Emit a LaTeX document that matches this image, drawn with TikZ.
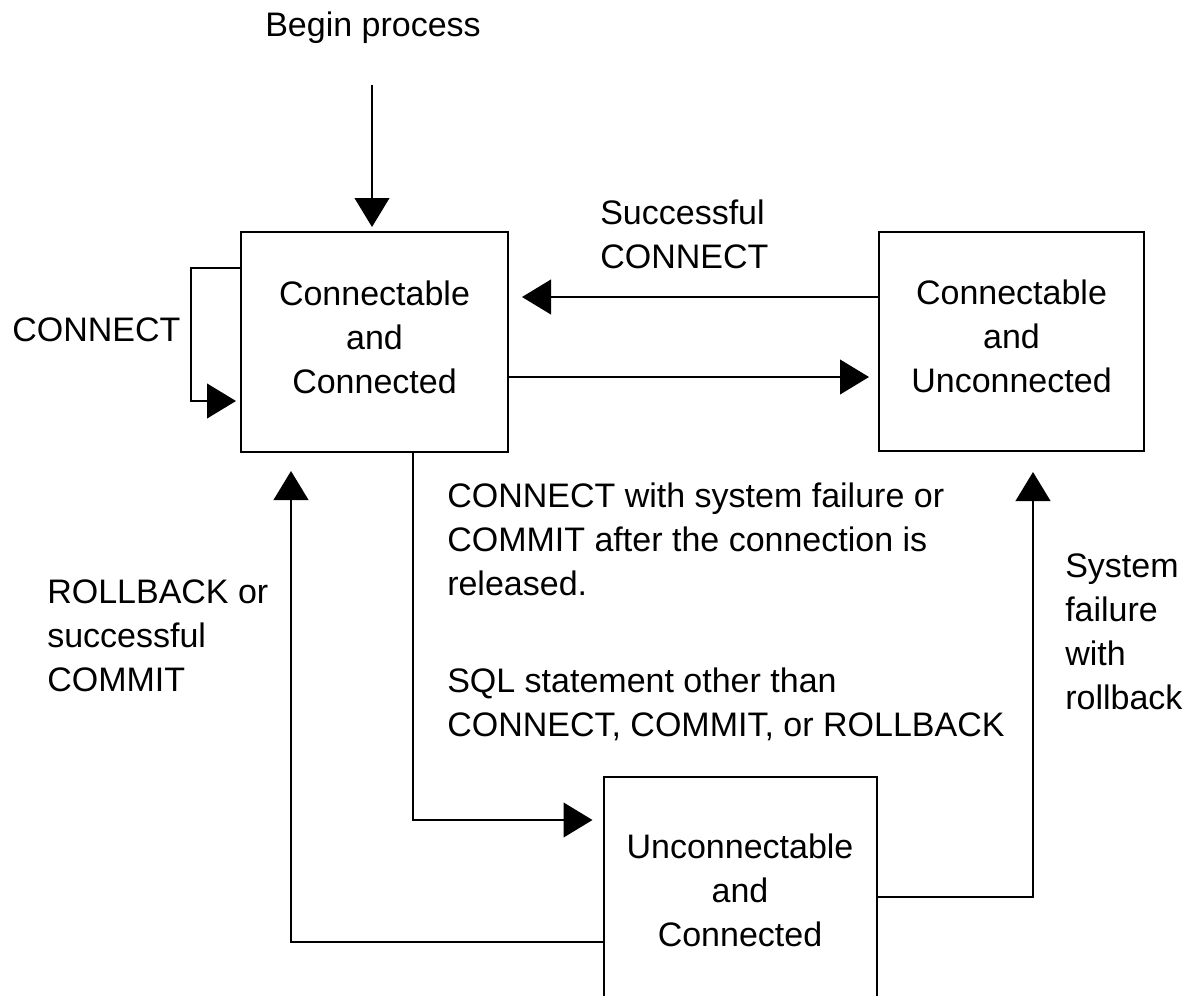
\documentclass[tikz,border=0pt]{standalone}
\usepackage{fontspec}
\setmainfont{Liberation Sans}
\usetikzlibrary{arrows.meta}
\begin{document}
\begin{tikzpicture}[x=0.75pt,y=-0.75pt,
  every node/.style={font=\fontsize{25.5}{33}\selectfont},
  stbox/.style={draw, line width=1.5pt, align=center, inner sep=0pt, text depth=7.5pt},
  lbl/.style={anchor=north west, inner sep=0pt, align=left},
  conn/.style={line width=1.5pt, -{Triangle[length=21.75pt,width=26pt]}}]
\useasboundingbox (0,0) rectangle (1191,995);
\fill[white] (0,0) rectangle (1191,995);
% states
\node[stbox, minimum width=200.25pt, minimum height=165pt] (CC) at (374.5,342) {Connectable\\and\\Connected};
\node[stbox, minimum width=198.75pt, minimum height=164.25pt] (CU) at (1011.5,341.5) {Connectable\\and\\Unconnected};
\node[stbox, minimum width=204.75pt, minimum height=177pt] (UC) at (740,895) {Unconnectable\\and\\Connected};
% labels
\node[anchor=north, inner sep=0pt] (tbegin) at (373,12) {Begin process};
\node[lbl] (tconn) at (12,317) {CONNECT};
\node[lbl] (tsucc) at (600,200) {Successful\\CONNECT};
\node[lbl] (tfail) at (447,483) {CONNECT with system failure or\\COMMIT after the connection is\\released.};
\node[lbl] (tsql) at (447,668) {SQL statement other than\\CONNECT, COMMIT, or ROLLBACK};
\node[lbl] (troll) at (47,579) {ROLLBACK or\\successful\\COMMIT};
\node[lbl] (tsys) at (1065,553) {System\\failure\\with\\rollback};
% helper coordinates
\coordinate (bp) at (372,85);
\coordinate (y268) at (0,268);
\coordinate (y401) at (0,401);
\coordinate (x191) at (191,0);
\coordinate (y297) at (0,297);
\coordinate (y377) at (0,377);
\coordinate (x413) at (413,0);
\coordinate (y820) at (0,820);
\coordinate (x291) at (291,0);
\coordinate (y942) at (0,942);
\coordinate (x1033) at (1033,0);
\coordinate (y897) at (0,897);
% connectors
\draw[conn, shorten >=3pt] (bp) -- (bp |- CC.north);
\draw[conn, shorten >=3pt] (CC.west |- y268) -- (x191 |- y268) -- (x191 |- y401) -- (CC.west |- y401);
\draw[conn, shorten >=9.75pt] (CU.west |- y297) -- (CC.east |- y297);
\draw[conn, shorten >=6.75pt] (CC.east |- y377) -- (CU.west |- y377);
\draw[conn, shorten >=7.5pt] (x413 |- CC.south) -- (x413 |- y820) -- (UC.west |- y820);
\draw[conn, shorten >=13.5pt] (UC.west |- y942) -- (x291 |- y942) -- (x291 |- CC.south);
\draw[conn, shorten >=15pt] (UC.east |- y897) -- (x1033 |- y897) -- (x1033 |- CU.south);
\end{tikzpicture}
\end{document}
